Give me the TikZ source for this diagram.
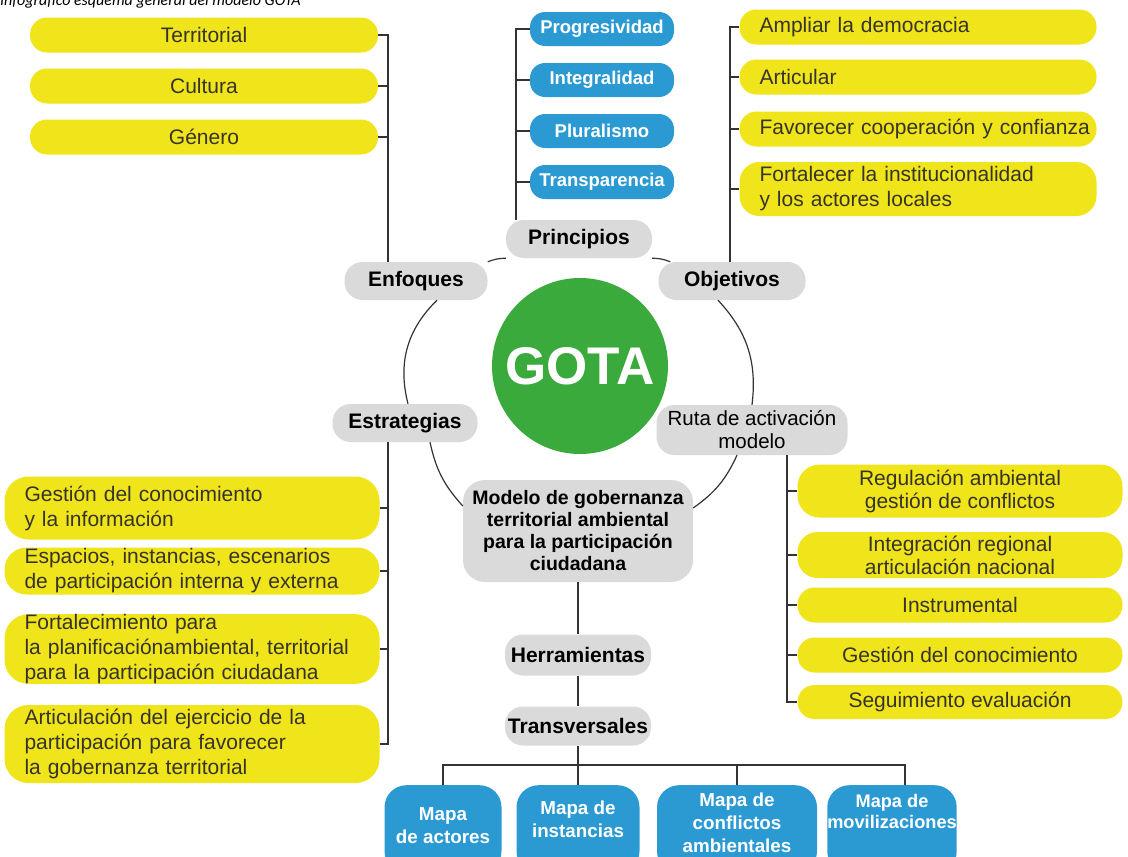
\documentclass[tikz,border=0pt]{standalone}
\usepackage{fontspec}
\setmainfont{Liberation Sans}
\newfontfamily\titlefont{Carlito}
\definecolor{gotayellow}{HTML}{F0E41A}
\definecolor{gotablue}{HTML}{2B9AD3}
\definecolor{gotagray}{HTML}{DADADA}
\definecolor{gotagreen}{HTML}{3BAA3C}
\definecolor{yeltext}{HTML}{36342A}
\definecolor{linegray}{HTML}{333333}
\tikzstyle{yelbox} = [fill=gotayellow, text=yeltext, rounded corners=17pt, inner sep=0pt,
    align=center, font=\fontsize{21}{23}\selectfont]
\tikzstyle{yelleft} = [yelbox, align=left, inner xsep=20pt, font=\fontsize{21}{25}\selectfont]
\tikzstyle{graybox} = [fill=gotagray, text=black, rounded corners=18pt, inner sep=0pt,
    align=center, font=\bfseries\fontsize{21}{23}\selectfont]
\tikzstyle{bluebox} = [fill=gotablue, text=white, rounded corners=15pt, inner sep=0pt,
    align=center, font=\bfseries\fontsize{18.5}{22}\selectfont]
\tikzstyle{mapbox} = [bluebox, rounded corners=22pt, anchor=north,
    font=\bfseries\fontsize{18.8}{23}\selectfont]
\tikzstyle{link} = [draw=linegray, line width=1.4pt]
\tikzstyle{ring} = [draw=linegray, line width=1.2pt]

\begin{document}
\begin{tikzpicture}[x=1pt, y=-1pt]
\useasboundingbox (0,0) rectangle (1128,857);

\node[anchor=base west, inner sep=0pt, font=\titlefont\itshape\fontsize{16}{16}\selectfont] (titulo) at (0,5.5) {Infográfico esquema general del modelo GOTA};

% centro
\node[circle, fill=gotagreen, minimum size=176pt, inner sep=0pt, text=white,
    font=\bfseries\fontsize{53}{53}\selectfont] (gota) at (580,366) {GOTA};

\node[graybox, minimum width=143pt, minimum height=38pt] (enf) at (416,281) {Enfoques};
\node[graybox, minimum width=146pt, minimum height=38pt] (pri) at (579,239) {Principios};
\node[graybox, minimum width=147pt, minimum height=38pt] (obj) at (732,281) {Objetivos};
\node[graybox, minimum width=145pt, minimum height=38pt] (est) at (405,423) {Estrategias};
\node[graybox, minimum width=191pt, minimum height=50pt, font=\fontsize{20.5}{23}\selectfont] (ruta) at (752,430) {Ruta de activación\\modelo};
\node[graybox, minimum width=230pt, minimum height=102pt, rounded corners=22pt,
    font=\bfseries\fontsize{19.5}{22}\selectfont] (mod) at (578,531) {Modelo de gobernanza\\territorial ambiental\\para la participación\\ciudadana};
\node[graybox, minimum width=146pt, minimum height=41pt] (herr) at (578,655) {Herramientas};
\node[graybox, minimum width=146pt, minimum height=39pt] (trans) at (578,726) {Transversales};

% anillo
\draw[ring] ([xshift=3pt]est.north) to[bend left=30] ([xshift=21pt]enf.south);
\draw[ring] (enf.north east) to[bend left=10] (pri.south west);
\draw[ring] (pri.south east) to[bend left=10] ([xshift=12pt]obj.north west);
\draw[ring] ([xshift=-14pt]obj.south) to[bend left=25] (ruta.north);
\draw[ring] ([xshift=-15pt]ruta.south) to[bend left=15] ([yshift=23pt]mod.east);
\draw[ring] ([yshift=25pt]mod.west) to[bend left=15] ([xshift=25pt]est.south);

% enfoques
\node[yelbox, minimum width=348pt, minimum height=35pt] (terr) at (204,35) {Territorial};
\node[yelbox, minimum width=348pt, minimum height=35pt] (cult) at (204,86) {Cultura};
\node[yelbox, minimum width=348pt, minimum height=35pt] (gen) at (204,137) {Género};
\coordinate (enfbus) at (388,0);
\draw[link] (terr.east) -| (enf.north -| enfbus);
\draw[link] (cult.east) -- (cult.east -| enfbus);
\draw[link] (gen.east) -- (gen.east -| enfbus);

% principios
\node[bluebox, minimum width=144pt, minimum height=34pt] (prog) at (602,29) {Progresividad};
\node[bluebox, minimum width=144pt, minimum height=34pt] (integ) at (602,80) {Integralidad};
\node[bluebox, minimum width=144pt, minimum height=34pt] (plur) at (602,131) {Pluralismo};
\node[bluebox, minimum width=144pt, minimum height=34pt] (transp) at (602,182) {Transparencia};
\coordinate (pribus) at (516,0);
\draw[link] (prog.west) -| (pri.north -| pribus);
\draw[link] (integ.west) -- (integ.west -| pribus);
\draw[link] (plur.west) -- (plur.west -| pribus);
\draw[link] (transp.west) -- (transp.west -| pribus);

% objetivos
\node[yelleft, text width=317pt, minimum height=35pt] (ampl) at (918,27) {Ampliar la democracia};
\node[yelleft, text width=317pt, minimum height=35pt] (artic) at (918,77) {Articular};
\node[yelleft, text width=317pt, minimum height=35pt] (favor) at (918,129) {\mbox{Favorecer cooperación y confianza}};
\node[yelleft, text width=317pt, minimum height=54pt, rounded corners=20pt] (fort) at (918,189) {Fortalecer la institucionalidad\\y los actores locales};
\coordinate (objbus) at (730,0);
\draw[link] (ampl.west) -| (obj.north -| objbus);
\draw[link] (artic.west) -- (artic.west -| objbus);
\draw[link] (favor.west) -- (favor.west -| objbus);
\draw[link] (fort.west) -- (fort.west -| objbus);

% estrategias
\node[yelleft, text width=335pt, minimum height=63pt, rounded corners=24pt] (gest) at (192,508) {Gestión del conocimiento\\y la información};
\node[yelleft, text width=335pt, minimum height=47pt, rounded corners=22pt] (esp) at (192,571) {Espacios, instancias, escenarios\\de participación interna y externa};
\node[yelleft, text width=335pt, minimum height=68pt, rounded corners=24pt] (fortal) at (192,649) {Fortalecimiento para\\la planificaciónambiental, territorial\\para la participación ciudadana};
\node[yelleft, text width=335pt, minimum height=78pt, rounded corners=24pt] (artej) at (192,744) {Articulación del ejercicio de la\\participación para favorecer\\la gobernanza territorial};
\coordinate (estbus) at (388,0);
\draw[link] (est.south -| estbus) |- (artej.east);
\draw[link] (gest.east) -- (gest.east -| estbus);
\draw[link] (esp.east) -- (esp.east -| estbus);
\draw[link] (fortal.east) -- (fortal.east -| estbus);

% ruta de activacion
\node[yelbox, minimum width=325pt, minimum height=53pt, rounded corners=22pt] (regul) at (960,491) {Regulación ambiental\\gestión de conflictos};
\node[yelbox, minimum width=325pt, minimum height=46pt, rounded corners=20pt] (integr) at (960,555) {Integración regional\\articulación nacional};
\node[yelbox, minimum width=325pt, minimum height=35pt] (instr) at (960,605) {Instrumental};
\node[yelbox, minimum width=325pt, minimum height=35pt] (gestc) at (960,655) {Gestión del conocimiento};
\node[yelbox, minimum width=325pt, minimum height=34pt] (segui) at (960,702) {Seguimiento evaluación};
\coordinate (rutabus) at (787,0);
\draw[link] (ruta.south -| rutabus) |- (segui.west);
\draw[link] (regul.west) -- (regul.west -| rutabus);
\draw[link] (integr.west) -- (integr.west -| rutabus);
\draw[link] (instr.west) -- (instr.west -| rutabus);
\draw[link] (gestc.west) -- (gestc.west -| rutabus);

% herramientas
\node[mapbox, minimum width=117pt, text height=58pt, text depth=30pt] (act) at (443,785) {Mapa\\de actores};
\node[mapbox, minimum width=123pt, text height=52pt, text depth=36pt] (inst) at (578,785) {Mapa de\\instancias};
\node[mapbox, minimum width=160pt, text height=67pt, text depth=21pt] (conf) at (737,785) {Mapa de\\conflictos\\ambientales};
\node[mapbox, minimum width=126pt, text height=43pt, text depth=45pt, font=\bfseries\fontsize{18.2}{21}\selectfont] (mov) at (892,785) {Mapa de\\movilizaciones};
\draw[link] (mod.south) -- (herr.north);
\draw[link] (herr.south) -- (trans.north);
\draw[link] (trans.south) -- (inst.north);
\coordinate (mapbus) at (0,765);
\coordinate (movtop) at ([xshift=13pt]mov.north);
\draw[link] (act.north) -- (act.north |- mapbus) -- (movtop |- mapbus) -- (movtop);
\draw[link] (conf.north) -- (conf.north |- mapbus);
\end{tikzpicture}
\end{document}
